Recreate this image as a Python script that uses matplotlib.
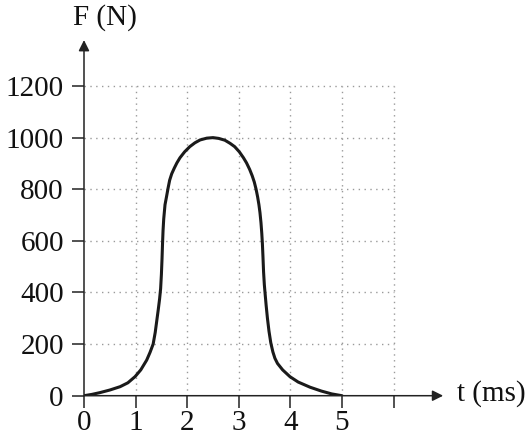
import matplotlib
matplotlib.use("Agg")
import matplotlib.pyplot as plt

# force-time curve
t_ms = [0.0, 0.15, 0.31, 0.5, 0.7, 0.85, 0.99, 1.1, 1.215, 1.28, 1.34, 1.38,
        1.41, 1.44, 1.465, 1.485, 1.50, 1.512, 1.522, 1.532, 1.545, 1.57,
        1.60, 1.63, 1.66, 1.70, 1.75, 1.80, 1.86, 1.95, 2.05, 2.15, 2.25,
        2.38, 2.5,
        2.61, 2.73, 2.83, 2.92, 3.01, 3.09, 3.15, 3.21, 3.26, 3.30, 3.335,
        3.365, 3.39, 3.41, 3.43, 3.445, 3.457, 3.468, 3.48, 3.495, 3.51,
        3.53, 3.555, 3.585, 3.62, 3.66, 3.70, 3.75, 3.85, 3.99, 4.15, 4.38,
        4.6, 4.8, 5.0]
force_n = [0, 5, 12, 22, 35, 50, 74, 100, 138, 168, 200, 245,
           290, 335, 375, 415, 470, 530, 590, 640, 685, 740,
           772, 805, 835, 860, 882, 902, 922, 945, 965, 980, 991,
           998, 1000,
           997, 990, 978, 965, 945, 922, 902, 877, 852, 828, 800,
           770, 740, 710, 670, 630, 590, 540, 480, 430, 395,
           350, 300, 250, 205, 170, 145, 125, 100, 74, 53, 33,
           18, 7, 0]

x_ticks = [0, 1, 2, 3, 4, 5, 6]
x_labels = ["0", "1", "2", "3", "4", "5", ""]
y_ticks = [0, 200, 400, 600, 800, 1000, 1200]
y_labels = ["0", "200", "400", "600", "800", "1000", "1200"]
x_grid = [1, 2, 3, 4, 5, 6]
y_grid = [200, 400, 600, 800, 1000, 1200]

plt.rcParams['font.family'] = ['Liberation Serif', 'DejaVu Serif']

fig = plt.figure(figsize=(5.25, 4.41), dpi=100)
ax = fig.add_axes([0.16, 0.1027, 0.688, 0.8193])
ax.set_xlim(0, 7)
ax.set_ylim(0, 1400)

for s in ax.spines.values():
    s.set_visible(False)

# dotted grid, only inside the 0-6 / 0-1200 box
ax.vlines(x_grid, 0, 1200, colors="#9a9a9a", linewidth=1.0,
          linestyles=(0, (1, 3.2)), zorder=1)
ax.hlines(y_grid, 0, 6, colors="#9a9a9a", linewidth=1.0,
          linestyles=(0, (1, 3.2)), zorder=1)

ax.plot(t_ms, force_n, color="#1a1a1a", linewidth=2.2, zorder=3,
        solid_capstyle="round", solid_joinstyle="round")

# axes with arrow heads
ax.annotate("", xy=(6.96, 0), xytext=(0, 0),
            arrowprops=dict(arrowstyle="-|>", color="#222222", lw=1.1,
                            mutation_scale=16, shrinkA=0, shrinkB=0),
            annotation_clip=False, zorder=4)
ax.annotate("", xy=(0, 1378), xytext=(0, 0),
            arrowprops=dict(arrowstyle="-|>", color="#222222", lw=1.1,
                            mutation_scale=16, shrinkA=0, shrinkB=0),
            annotation_clip=False, zorder=4)

ax.set_xticks(x_ticks)
ax.set_xticklabels(x_labels)
ax.set_yticks(y_ticks)
ax.set_yticklabels(y_labels)
ax.tick_params(axis="both", direction="out", length=8.5, width=1.1,
               color="#222222", labelsize=21, labelcolor="#111111")
ax.tick_params(axis="y", pad=6)
ax.tick_params(axis="x", pad=1.5)

fig.text(105 / 525, 1 - 18 / 441, "F (N)", fontsize=21, ha="center",
         va="center", color="#111111")
fig.text(457 / 525, 1 - 394 / 441, "t (ms)", fontsize=21, ha="left",
         va="center", color="#111111")

fig.savefig("out.png", dpi=100)
